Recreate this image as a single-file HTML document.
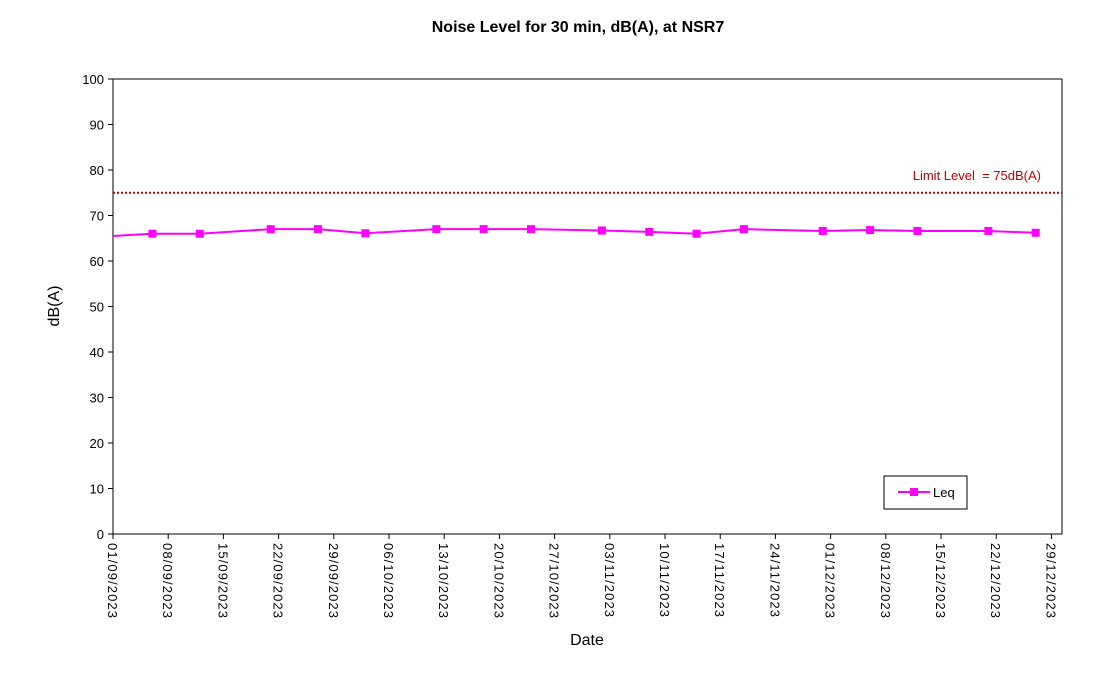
<!DOCTYPE html>
<html><head><meta charset="utf-8"><style>
body{margin:0;background:#fff;font-family:"Liberation Sans",Arial,sans-serif}
</style></head><body>
<svg id="chart" width="1112" height="678" xmlns="http://www.w3.org/2000/svg" font-family="Liberation Sans, Arial, sans-serif">
<defs><clipPath id="pc"><rect x="113" y="79" width="949" height="455"/></clipPath></defs>
<rect width="1112" height="678" fill="#fff"/>
<text x="578" y="32" text-anchor="middle" font-size="16" font-weight="bold">Noise Level for 30 min, dB(A), at NSR7</text>
<rect x="113" y="79" width="949" height="455" fill="none" stroke="#000" stroke-width="1"/>
<g id="yaxis"></g><g id="xaxis"></g>
<line id="limit" x1="113" x2="1062" stroke="#c00000" stroke-width="2" stroke-dasharray="2,2"/>
<text id="limitLabel" x="1041" font-size="13" fill="#c00000" text-anchor="end">Limit Level&#160; = 75dB(A)</text>
<g id="series" clip-path="url(#pc)"></g>
<text transform="translate(59,306) rotate(-90)" text-anchor="middle" font-size="16">dB(A)</text>
<text x="587" y="645" text-anchor="middle" font-size="16">Date</text>
<g>
<rect x="884" y="476" width="83" height="33" fill="#fff" stroke="#000"/>
<line x1="898" x2="930" y1="492" y2="492" stroke="#ff00ff" stroke-width="2"/>
<rect x="910" y="488" width="8" height="8" fill="#ff00ff"/>
<text x="933" y="497" font-size="13">Leq</text>
</g>
</svg>
<script>
const yTicks=[0,10,20,30,40,50,60,70,80,90,100];
const xTickLabels=["01/09/2023","08/09/2023","15/09/2023","22/09/2023","29/09/2023","06/10/2023","13/10/2023","20/10/2023","27/10/2023","03/11/2023","10/11/2023","17/11/2023","24/11/2023","01/12/2023","08/12/2023","15/12/2023","22/12/2023","29/12/2023"];
const xTickDays=[0,7,14,21,28,35,42,49,56,63,70,77,84,91,98,105,112,119];
const leqDays=[-2,5,11,20,26,32,41,47,53,62,68,74,80,90,96,102,111,117];
const leqValues=[65.3,66,66,67,67,66.1,67,67,67,66.7,66.4,66,67,66.6,66.8,66.6,66.6,66.2];
const limitValue=75;
const NS="http://www.w3.org/2000/svg";
const x=d=>113+d*7.886, y=v=>534-v*4.55;
function mk(t,a,p){const e=document.createElementNS(NS,t);for(const k in a)e.setAttribute(k,a[k]);p.appendChild(e);return e;}
const ya=document.getElementById('yaxis'),xa=document.getElementById('xaxis'),s=document.getElementById('series');
yTicks.forEach(v=>{
 const l=mk('line',{x1:108,x2:113,y1:y(v),y2:y(v),stroke:'#000'},ya);
 
 
 const t=mk('text',{x:104,y:y(v)+5,'text-anchor':'end','font-size':13},ya);t.textContent=v;
 
 
});
xTickDays.forEach((d,i)=>{
 const l=mk('line',{x1:x(d),x2:x(d),y1:534,y2:539,stroke:'#000'},xa);
 
 
 const t=mk('text',{transform:`translate(${x(d)-5},543) rotate(90)`,'font-size':13,'letter-spacing':'1.1'},xa);t.textContent=xTickLabels[i];
 
 
});
const lim=document.getElementById('limit');lim.setAttribute('y1',y(limitValue));lim.setAttribute('y2',y(limitValue));
document.getElementById('limitLabel').setAttribute('y',y(limitValue)-13);
const pl=mk('polyline',{points:leqDays.map((d,i)=>x(d)+','+y(leqValues[i])).join(' '),fill:'none',stroke:'#ff00ff','stroke-width':2},s);


leqDays.forEach((d,i)=>{
 const r=mk('rect',{x:x(d)-4,y:y(leqValues[i])-4,width:8,height:8,fill:'#ff00ff'},s);
 
 
});
</script>
</body></html>
